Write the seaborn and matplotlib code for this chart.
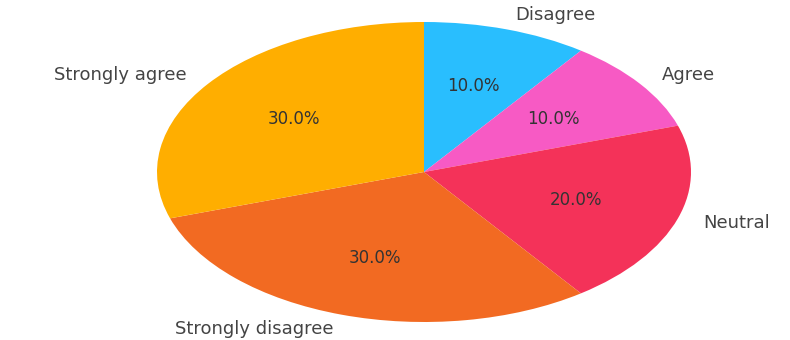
import matplotlib
matplotlib.use("Agg")
import matplotlib.pyplot as plt
import seaborn as sns

categories = ["Disagree", "Agree", "Neutral", "Strongly disagree", "Strongly agree"]
values = [10, 10, 20, 30, 30]
colors = ["#29BEFE", "#F75AC4", "#F43259", "#F26A22", "#FFAE00"]

sns.set_style("white")
plt.rcParams['font.family'] = ['DejaVu Sans']

fig = plt.figure(figsize=(7.9, 3.4), dpi=100)
ax = fig.add_axes([0, 0, 1, 1])
wedges, texts, autotexts = ax.pie(
    values, labels=categories, colors=sns.color_palette(colors),
    autopct="%1.1f%%", startangle=90, counterclock=False,
    wedgeprops={"linewidth": 0, "edgecolor": "none"},
    textprops={"fontsize": 13, "color": "#444444"},
)
for t in autotexts:
    t.set_fontsize(12)
    t.set_color("#333333")
ax.set_aspect("auto")
ax.set_xlim(-424 / 267, (790 - 424) / 267)
ax.set_ylim(-(340 - 172) / 150, 172 / 150)
ax.axis("off")
fig.savefig("out.png", dpi=100)
